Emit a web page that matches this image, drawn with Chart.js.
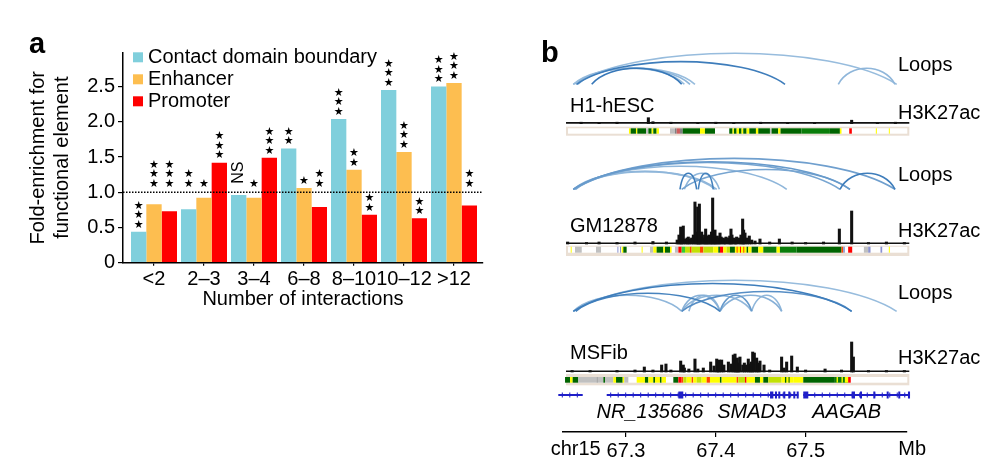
<!DOCTYPE html>
<html>
<head>
<meta charset="utf-8">
<script src="https://cdn.jsdelivr.net/npm/chart.js@4.4.1/dist/chart.umd.min.js"></script>
<style>
  body { margin: 0; background: #fff; width: 1008px; height: 474px; overflow: hidden; position: relative; }
  #wrapA { position: absolute; left: 0; top: 0; width: 500px; height: 315px; }
  #wrapB { position: absolute; left: 530px; top: 0; width: 478px; height: 474px; }
</style>
</head>
<body>
<div id="wrapA"><canvas id="chartA"></canvas></div>
<div id="wrapB"><canvas id="chartB"></canvas></div>
<script>
// ---- panel a data ----
const groups = ['<2', '2–3', '3–4', '6–8', '8–10', '10–12', '>12'];
const boundary = [0.44, 0.76, 0.96, 1.62, 2.04, 2.45, 2.50];
const enhancer = [0.83, 0.92, 0.92, 1.06, 1.32, 1.57, 2.55];
const promoter = [0.73, 1.42, 1.49, 0.79, 0.68, 0.63, 0.81];
const boundarySig = ['***', '**', 'NS', '**', '***', '***', '***'];
const enhancerSig = ['***', '*', '*', '*', '**', '***', '***'];
const promoterSig = ['***', '***', '***', '**', '**', '**', '**'];
// marks that sit above the dotted 1.0 line rather than on top of the bar
const boundaryLift = [false, true, true, false, false, false, false];
const enhancerLift = [true, true, true, false, false, false, false];
const promoterLift = [true, false, false, true, false, false, true];
const foldTicks = [0, 0.5, 1, 1.5, 2, 2.5];

// ---- panel b data (positions in Mb) ----
const mbTicks = [67.3, 67.4, 67.5];
const trackSpan = [67.2332, 67.6155];

// loops: [anchor1, anchor2, strength]
const h1Loops = [
  [67.2413, 67.6015, 0.3], [67.2413, 67.3768, 0.3], [67.2440, 67.3713, 0.35],
  [67.2465, 67.3650, 0.3], [67.2618, 67.3620, 0.9], [67.2451, 67.4771, 0.85],
  [67.5364, 67.5996, 0.35]
];
const gmLoops = [
  [67.2413, 67.5996, 0.55], [67.2413, 67.5494, 0.6], [67.2430, 67.5383, 0.5],
  [67.2413, 67.4790, 0.35], [67.2413, 67.4010, 0.35], [67.2440, 67.3990, 0.3],
  [67.3601, 67.3787, 0.85], [67.3805, 67.3972, 0.8], [67.3650, 67.4040, 0.35],
  [67.3620, 67.5494, 0.5], [67.5383, 67.5996, 0.85]
];
const msLoops = [
  [67.2413, 67.6014, 0.3], [67.2413, 67.5513, 0.85], [67.2440, 67.4047, 0.8],
  [67.2413, 67.3620, 0.35], [67.3620, 67.4047, 0.4], [67.3620, 67.4400, 0.35],
  [67.4047, 67.4400, 0.6], [67.4047, 67.4734, 0.4], [67.4400, 67.4734, 0.35],
  [67.3700, 67.4047, 0.35], [67.3620, 67.5513, 0.7]
];

// H3K27ac signal: [Mb, height]
const h1Peaks = [
  [67.2500, 1.5], [67.2700, 1.2], [67.2900, 1.5], [67.3249, 6], [67.3300, 2],
  [67.3500, 1.5], [67.3800, 1.2], [67.4000, 1.5], [67.4200, 1.2], [67.4500, 1.5],
  [67.4800, 1.2], [67.5100, 1.2], [67.5513, 3.5], [67.5800, 1.2], [67.6000, 1.5]
];
const gmPeaks = [
  [67.2350, 2], [67.2560, 1.5], [67.2700, 2], [67.2900, 1.5], [67.3100, 2],
  [67.3300, 2.5], [67.3450, 2], [67.3570, 4], [67.3590, 9], [67.3609, 17], [67.3620, 10],
  [67.3638, 18], [67.3660, 5], [67.3680, 6], [67.3694, 7], [67.3710, 5], [67.3731, 6],
  [67.3750, 9], [67.3768, 42], [67.3785, 12], [67.3798, 37], [67.3808, 20], [67.3817, 40],
  [67.3830, 8], [67.3843, 12], [67.3860, 6], [67.3875, 9], [67.3887, 15], [67.3900, 8],
  [67.3912, 7], [67.3924, 9], [67.3940, 6], [67.3952, 12], [67.3965, 46], [67.3980, 10], [67.3991, 14],
  [67.4000, 6], [67.4017, 8], [67.4030, 6], [67.4047, 11], [67.4060, 7], [67.4084, 6],
  [67.4100, 5], [67.4114, 7], [67.4140, 6], [67.4155, 8], [67.4169, 15], [67.4180, 9],
  [67.4203, 6], [67.4220, 5], [67.4232, 7], [67.4260, 6], [67.4280, 9],
  [67.4299, 25], [67.4310, 14], [67.4325, 11], [67.4350, 6], [67.4373, 8],
  [67.4400, 4], [67.4437, 3], [67.4492, 5], [67.4600, 2], [67.4708, 5],
  [67.4850, 2], [67.5000, 1.5], [67.5200, 2], [67.5376, 15], [67.5513, 33],
  [67.5700, 1.5], [67.5900, 2], [67.6100, 1.5]
];
const msPeaks = [
  [67.2400, 1.5], [67.2600, 1.5], [67.2900, 1.5], [67.3100, 2], [67.3204, 5],
  [67.3300, 2], [67.3397, 7], [67.3445, 8], [67.3500, 2], [67.3609, 11],
  [67.3638, 7], [67.3650, 4], [67.3700, 3], [67.3768, 13], [67.3800, 3],
  [67.3861, 4], [67.3943, 10], [67.3980, 6], [67.4010, 13], [67.4025, 9], [67.4039, 12],
  [67.4065, 12], [67.4090, 7], [67.4140, 10], [67.4170, 8], [67.4195, 17],
  [67.4214, 18], [67.4228, 12], [67.4240, 14], [67.4255, 9], [67.4269, 15], [67.4300, 7], [67.4318, 9],
  [67.4340, 7], [67.4362, 13], [67.4380, 8], [67.4395, 10], [67.4411, 20], [67.4429, 19],
  [67.4455, 14], [67.4470, 9], [67.4492, 11], [67.4537, 7], [67.4600, 2],
  [67.4733, 15], [67.4760, 4], [67.4789, 10], [67.4845, 16], [67.4908, 5],
  [67.5000, 2], [67.5217, 3], [67.5400, 2], [67.5513, 30], [67.5532, 15],
  [67.5700, 1.5], [67.5900, 1.5], [67.6100, 1.5]
];

// chromatin states: [start, end, state]
const h1States = [
  [67.3033, 67.3052, 'Enh'], [67.3052, 67.3111, 'Tx'], [67.3111, 67.3126, 'Enh'],
  [67.3126, 67.3223, 'Tx'], [67.3223, 67.3249, 'Het'], [67.3249, 67.3286, 'Tx'],
  [67.3286, 67.3304, 'Enh'], [67.3304, 67.3341, 'Tx'], [67.3341, 67.3367, 'Enh'],
  [67.3490, 67.3545, 'Het'], [67.3545, 67.3564, 'Repr'], [67.3564, 67.3601, 'Biv'],
  [67.3601, 67.3631, 'Repr'], [67.3631, 67.3824, 'Tx'], [67.3824, 67.3879, 'Enh'],
  [67.3879, 67.3991, 'Tx'], [67.4150, 67.4187, 'Tx'], [67.4187, 67.4202, 'Enh'],
  [67.4202, 67.4232, 'Tx'], [67.4232, 67.4258, 'Enh'], [67.4258, 67.4287, 'Tx'],
  [67.4287, 67.4306, 'Enh'], [67.4306, 67.4343, 'Tx'], [67.4343, 67.4373, 'Enh'],
  [67.4373, 67.4447, 'Tx'], [67.4447, 67.4473, 'Enh'], [67.4473, 67.4603, 'Tx'],
  [67.4603, 67.4621, 'Het'], [67.4621, 67.4695, 'Tx'], [67.4695, 67.4721, 'Enh'],
  [67.4721, 67.4955, 'Tx'], [67.4955, 67.5271, 'TxW'], [67.5271, 67.5382, 'Tx'],
  [67.5382, 67.5400, 'Enh'], [67.5486, 67.5515, 'TssA'], [67.5782, 67.5794, 'Enh'],
  [67.5927, 67.5938, 'Enh']
];
const gmStates = [
  [67.2384, 67.2395, 'Enh'], [67.2432, 67.2507, 'Het'], [67.2666, 67.2722, 'Het'],
  [67.2904, 67.2915, 'ZNF'], [67.2933, 67.2944, 'ZNF'], [67.2952, 67.2970, 'Enh'],
  [67.2970, 67.3007, 'Tx'], [67.3174, 67.3182, 'Enh'], [67.3267, 67.3304, 'Het'],
  [67.3304, 67.3341, 'Enh'], [67.3341, 67.3416, 'Tx'], [67.3416, 67.3434, 'Enh'],
  [67.3434, 67.3490, 'Tx'], [67.3490, 67.3508, 'Enh'], [67.3545, 67.3583, 'Het'],
  [67.3583, 67.3620, 'TssA'], [67.3620, 67.3657, 'Flnk'], [67.3657, 67.3712, 'EnhG'],
  [67.3712, 67.3731, 'TssF'], [67.3731, 67.3824, 'EnhG'], [67.3824, 67.3861, 'TssF'],
  [67.3861, 67.3972, 'EnhG'], [67.3972, 67.4028, 'Enh'], [67.4028, 67.4046, 'Tx'],
  [67.4046, 67.4083, 'TssA'], [67.4083, 67.4120, 'Enh'], [67.4120, 67.4158, 'EnhG'],
  [67.4158, 67.4213, 'Tx'], [67.4213, 67.4343, 'Enh'], [67.4232, 67.4240, 'TssF'],
  [67.4269, 67.4277, 'TssA'], [67.4306, 67.4314, 'TssF'], [67.4343, 67.4362, 'Tx'],
  [67.4362, 67.4399, 'Enh'], [67.4399, 67.4473, 'Tx'], [67.4473, 67.4529, 'Enh'],
  [67.4529, 67.4677, 'TxW'], [67.4677, 67.4714, 'Enh'], [67.4714, 67.4900, 'TxW'],
  [67.4900, 67.5400, 'Tx'], [67.5400, 67.5419, 'TssF'], [67.5419, 67.5437, 'ZNF'],
  [67.5474, 67.5519, 'TssA'], [67.5649, 67.5697, 'Het'], [67.5697, 67.5723, 'ZNF'],
  [67.5834, 67.5853, 'ZNF'], [67.5927, 67.5938, 'Enh']
];
const msStates = [
  [67.2321, 67.2377, 'Tx'], [67.2377, 67.2406, 'Enh'], [67.2406, 67.2469, 'Tx'],
  [67.2469, 67.2674, 'Het'], [67.2674, 67.2685, 'Repr'], [67.2685, 67.2748, 'Het'],
  [67.2748, 67.2766, 'Tx'], [67.2766, 67.2859, 'Het'], [67.2859, 67.2889, 'Enh'],
  [67.2889, 67.2963, 'Tx'], [67.2963, 67.2981, 'Enh'], [67.2981, 67.3026, 'Het'],
  [67.3119, 67.3211, 'Enh'], [67.3211, 67.3249, 'Tx'], [67.3249, 67.3304, 'Enh'],
  [67.3304, 67.3323, 'Tx'], [67.3323, 67.3378, 'Enh'], [67.3378, 67.3397, 'Tx'],
  [67.3397, 67.3445, 'Enh'], [67.3527, 67.3583, 'Tx'], [67.3583, 67.3620, 'TssA'],
  [67.3620, 67.3638, 'TssF'], [67.3638, 67.3675, 'EnhG'], [67.3675, 67.3731, 'Enh'],
  [67.3731, 67.3749, 'TssF'], [67.3749, 67.3787, 'Enh'], [67.3787, 67.3842, 'EnhG'],
  [67.3842, 67.3898, 'Enh'], [67.3898, 67.3935, 'TssF'], [67.3935, 67.4046, 'Enh'],
  [67.4046, 67.4065, 'Tx'], [67.4065, 67.4232, 'Enh'], [67.4232, 67.4250, 'TssF'],
  [67.4250, 67.4325, 'EnhG'], [67.4325, 67.4343, 'TssA'], [67.4343, 67.4436, 'Enh'],
  [67.4436, 67.4492, 'Tx'], [67.4492, 67.4529, 'Enh'], [67.4529, 67.4584, 'Tx'],
  [67.4584, 67.4733, 'EnhG'], [67.4733, 67.4862, 'Enh'], [67.4770, 67.4785, 'Tx'],
  [67.4810, 67.4822, 'Tx'], [67.4862, 67.4974, 'Enh'], [67.4974, 67.5326, 'Tx'],
  [67.5326, 67.5474, 'TxW'], [67.5345, 67.5360, 'Enh'], [67.5400, 67.5415, 'Enh'],
  [67.5437, 67.5474, 'Enh'], [67.5474, 67.5503, 'TssA']
];

// RefSeq genes
const geneBodies = [[67.2246, 67.2518], [67.2785, 67.4919], [67.4974, 67.6163]];
const geneExons = [
  [67.3583, 67.3638], [67.4604, 67.4641], [67.4659, 67.4668], [67.4696, 67.4705],
  [67.4752, 67.4760], [67.4807, 67.4815], [67.4863, 67.4871], [67.4901, 67.4919],
  [67.4974, 67.5030], [67.5513, 67.5550], [67.5606, 67.5620], [67.5754, 67.5765],
  [67.5903, 67.5912], [67.6032, 67.6045], [67.6140, 67.6163]
];
const geneNames = [['NR_135686', 67.3267], ['SMAD3', 67.4400], ['AAGAB', 67.5458]];

const stateColors = {
  Tx: '#006400', TxW: '#0a7d0a', Flnk: '#32cd32', Enh: '#ffff00', EnhG: '#c2e105',
  TssA: '#ff0000', TssF: '#ff4500', Het: '#c0c0c0', Repr: '#808080', Biv: '#cd5c5c', ZNF: '#8a91d0'
};

Chart.defaults.font.family = "'Liberation Sans', Arial, sans-serif";
Chart.defaults.font.size = 20;
Chart.defaults.color = '#000';

const FONT = "'Liberation Sans', Arial, sans-serif";

// ---------- panel a ----------
const annotPlugin = {
  id: 'annot',
  afterDatasetsDraw(chart) {
    const { ctx, chartArea, scales: { y } } = chart;
    const oneY = y.getPixelForValue(1);

    // dotted reference at 1.0
    ctx.save();
    ctx.strokeStyle = '#000';
    ctx.lineWidth = 1.3;
    ctx.setLineDash([1.5, 1.5]);
    ctx.beginPath();
    ctx.moveTo(chartArea.left, oneY);
    ctx.lineTo(chartArea.right, oneY);
    ctx.stroke();
    ctx.restore();

    // significance marks
    ctx.save();
    ctx.fillStyle = '#000';
    ctx.textAlign = 'center';
    ctx.textBaseline = 'middle';
    chart.data.datasets.forEach((ds, di) => {
      chart.getDatasetMeta(di).data.forEach((bar, j) => {
        const mark = ds.sig[j];
        const base = ds.lift[j] ? Math.min(bar.y, oneY) - 8.5 : bar.y - 7;
        if (mark === 'NS') {
          ctx.save();
          ctx.translate(bar.x, base - 11);
          ctx.rotate(-Math.PI / 2);
          ctx.font = '16px ' + FONT;
          ctx.fillText('NS', 0, 0);
          ctx.restore();
        } else {
          ctx.font = "11px 'DejaVu Sans'";
          for (let k = 0; k < mark.length; k++) {
            ctx.fillText('★', bar.x, base - k * 9.5);
          }
        }
      });
    });
    ctx.restore();

    // legend
    ctx.save();
    ctx.textAlign = 'left';
    ctx.textBaseline = 'middle';
    ctx.font = '20px ' + FONT;
    chart.data.datasets.forEach((ds, i) => {
      const cy = 57.3 + i * 22;
      ctx.fillStyle = ds.backgroundColor;
      ctx.fillRect(133, cy - 5, 10, 10);
      ctx.fillStyle = '#000';
      ctx.fillText(ds.label, 148, cy);
    });
    ctx.font = 'bold 29px ' + FONT;
    ctx.textBaseline = 'alphabetic';
    ctx.fillText('a', 29, 53.3);
    ctx.restore();
  }
};

const pts = arr => arr.map((v, i) => ({ x: i, y: v }));

new Chart(document.getElementById('chartA'), {
  type: 'bar',
  data: {
    datasets: [
      { label: 'Contact domain boundary', data: pts(boundary), backgroundColor: '#80cfdc', sig: boundarySig, lift: boundaryLift },
      { label: 'Enhancer', data: pts(enhancer), backgroundColor: '#fdbe50', sig: enhancerSig, lift: enhancerLift },
      { label: 'Promoter', data: pts(promoter), backgroundColor: '#ff0000', sig: promoterSig, lift: promoterLift }
    ]
  },
  options: {
    responsive: true,
    maintainAspectRatio: false,
    animation: false,
    layout: { padding: { left: 0, top: 52.7, right: 17, bottom: 0 } },
    datasets: { bar: { categoryPercentage: 0.92, barPercentage: 1 } },
    plugins: { legend: { display: false }, tooltip: { enabled: false } },
    scales: {
      x: {
        type: 'linear',
        min: -0.62,
        max: 6.58,
        offset: false,
        afterBuildTicks: s => { s.ticks = groups.map((g, i) => ({ value: i })); },
        afterFit: s => { s.height = 52.3; },
        grid: { drawOnChartArea: false, tickLength: 3, color: '#000', lineWidth: 1.2, offset: false },
        border: { color: '#000', width: 1.5 },
        ticks: { callback: v => groups[v], padding: 2, maxRotation: 0, autoSkip: false },
        title: { display: true, text: 'Number of interactions', padding: { top: 0, bottom: 3.7 } }
      },
      y: {
        min: 0,
        max: 2.98,
        afterBuildTicks: s => { s.ticks = foldTicks.map(v => ({ value: v })); },
        afterFit: s => { s.width = 123; },
        grid: { drawOnChartArea: false, tickLength: 5, color: '#000', lineWidth: 1.2 },
        border: { color: '#000', width: 1.5 },
        ticks: { callback: v => (v === 0 ? '0' : v.toFixed(1)), padding: 3 },
        title: { display: true, text: ['Fold-enrichment for', 'functional element'], padding: { top: 26, bottom: 0 } }
      }
    }
  },
  plugins: [annotPlugin]
});

// ---------- panel b ----------
// vertical layout of each track, in px above the coordinate axis
const tracks = [
  { name: 'H1-hESC', loops: h1Loops, peaks: h1Peaks, states: h1States,
    loopBase: 347.7, sigBase: 308.3, stateLo: 298.3, stateHi: 303.7, frameLo: 296.3, frameHi: 305.3,
    nameY: 325.3, loopLabelY: 367, markLabelY: 319 },
  { name: 'GM12878', loops: gmLoops, peaks: gmPeaks, states: gmStates,
    loopBase: 242.7, sigBase: 188, stateLo: 179.3, stateHi: 185.3, frameLo: 176, frameHi: 186.3,
    nameY: 205.3, loopLabelY: 256.3, markLabelY: 200.3 },
  { name: 'MSFib', loops: msLoops, peaks: msPeaks, states: msStates,
    loopBase: 120.7, sigBase: 60, stateLo: 49.3, stateHi: 55, frameLo: 46.7, frameHi: 58,
    nameY: 78.3, loopLabelY: 139, markLabelY: 74 }
];
const geneY = 37;
const geneLabelY = 20;
const OFFX = 530;

function loopColor(w) {
  const lo = [200, 222, 240], hi = [38, 108, 178];
  const c = lo.map((v, i) => Math.round(v + (hi[i] - v) * w));
  return `rgb(${c[0]},${c[1]},${c[2]})`;
}

const browserPlugin = {
  id: 'browser',
  beforeDatasetsDraw(chart) {
    const { ctx, scales: { x, y } } = chart;
    const px = v => x.getPixelForValue(v);
    const py = v => y.getPixelForValue(v);
    ctx.save();
    tracks.forEach(t => {
      // chromatin state strip
      const fx1 = px(trackSpan[0]), fx2 = px(trackSpan[1]);
      ctx.fillStyle = '#eadfd4';
      ctx.fillRect(fx1, py(t.frameHi), fx2 - fx1, py(t.frameLo) - py(t.frameHi));
      ctx.fillStyle = '#fff';
      ctx.fillRect(fx1 + 2, py(t.stateHi), fx2 - fx1 - 4, py(t.stateLo) - py(t.stateHi));
      t.states.forEach(([s, e, st]) => {
        ctx.fillStyle = stateColors[st];
        ctx.fillRect(px(s), py(t.stateHi), Math.max(1, px(e) - px(s)), py(t.stateLo) - py(t.stateHi));
      });

      // signal baseline
      ctx.strokeStyle = '#111';
      ctx.lineWidth = 1.6;
      ctx.beginPath();
      ctx.moveTo(fx1, py(t.sigBase) - 0.8);
      ctx.lineTo(fx2, py(t.sigBase) - 0.8);
      ctx.stroke();

      // loop arcs, faint ones first
      const yb = py(t.loopBase);
      [...t.loops].sort((a, b) => a[2] - b[2]).forEach(([s, e, w]) => {
        const x1 = px(s), x2 = px(e), c = x2 - x1;
        const h = 16 + 15 * Math.min(1, Math.max(0, (e - s - 0.13) / 0.23));
        const cy = yb - (yb - py(t.loopBase + h)) * 4 / 3;
        ctx.strokeStyle = loopColor(w);
        ctx.lineWidth = 1.6;
        ctx.beginPath();
        ctx.moveTo(x1, yb);
        ctx.bezierCurveTo(x1 + 0.2 * c, cy, x2 - 0.2 * c, cy, x2, yb);
        ctx.stroke();
      });
    });

    // gene models
    const gy = py(geneY);
    ctx.strokeStyle = '#1f1fc8';
    ctx.fillStyle = '#1f1fc8';
    ctx.lineWidth = 2;
    geneBodies.forEach(([s, e]) => {
      const x1 = px(s), x2 = px(e);
      ctx.beginPath();
      ctx.moveTo(x1, gy);
      ctx.lineTo(x2, gy);
      ctx.stroke();
      ctx.lineWidth = 1;
      for (let gx = x1 + 4; gx < x2 - 2; gx += 7.5) {
        ctx.beginPath();
        ctx.moveTo(gx, gy - 2.5);
        ctx.lineTo(gx, gy + 2.5);
        ctx.stroke();
      }
      ctx.lineWidth = 2;
    });
    geneExons.forEach(([s, e]) => {
      ctx.fillRect(px(s), gy - 3.5, Math.max(2, px(e) - px(s)), 7);
    });
    ctx.restore();
  },
  afterDraw(chart) {
    const { ctx, scales: { x, y } } = chart;
    ctx.save();
    ctx.fillStyle = '#000';
    ctx.textBaseline = 'middle';
    ctx.font = '20px ' + FONT;
    ctx.textAlign = 'left';
    tracks.forEach(t => {
      ctx.fillText(t.name, 570 - OFFX, y.getPixelForValue(t.nameY));
      ctx.fillText('Loops', 898 - OFFX, y.getPixelForValue(t.loopLabelY));
      ctx.fillText('H3K27ac', 898 - OFFX, y.getPixelForValue(t.markLabelY));
    });
    ctx.fillText('chr15', 550.7 - OFFX, 449);
    ctx.fillText('Mb', 898.3 - OFFX, 449);
    ctx.textAlign = 'center';
    ctx.font = 'italic 20px ' + FONT;
    geneNames.forEach(([n, mb]) => ctx.fillText(n, x.getPixelForValue(mb), y.getPixelForValue(geneLabelY)));
    ctx.textAlign = 'left';
    ctx.textBaseline = 'alphabetic';
    ctx.font = 'bold 29px ' + FONT;
    ctx.fillText('b', 541 - OFFX, 61.7);
    ctx.restore();
  }
};

new Chart(document.getElementById('chartB'), {
  type: 'bar',
  data: {
    datasets: tracks.map(t => ({
      label: t.name,
      data: t.peaks.map(([mb, v]) => ({ x: mb, y: [t.sigBase, t.sigBase + v] })),
      backgroundColor: '#111',
      barThickness: 2.4,
      grouped: false,
      clip: false
    }))
  },
  options: {
    responsive: true,
    maintainAspectRatio: false,
    animation: false,
    layout: { padding: { left: 32.7, right: 101.3, top: 50, bottom: 0 } },
    plugins: { legend: { display: false }, tooltip: { enabled: false } },
    scales: {
      x: {
        type: 'linear',
        min: 67.2295,
        max: 67.6126,
        offset: false,
        afterBuildTicks: s => { s.ticks = mbTicks.map(v => ({ value: v })); },
        afterFit: s => { s.height = 42; },
        grid: { drawOnChartArea: false, tickLength: 5, color: '#000', lineWidth: 1.2, offset: false },
        border: { color: '#000', width: 1.5 },
        ticks: { callback: v => v.toFixed(1), padding: 2, maxRotation: 0, autoSkip: false }
      },
      y: { display: false, min: 0, max: 382 }
    }
  },
  plugins: [browserPlugin]
});
</script>
</body>
</html>
